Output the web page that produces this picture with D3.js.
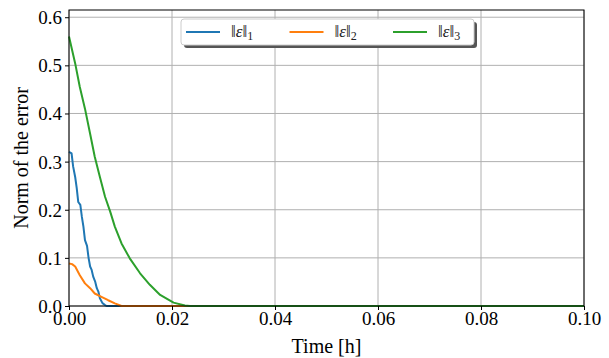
<!DOCTYPE html>
<html>
<head>
<meta charset="utf-8">
<script src="https://cdn.jsdelivr.net/npm/d3@7"></script>
<style>
  body { margin: 0; background: #fff; }
  svg { display: block; }
  svg text { font-family: "Liberation Serif", "DejaVu Serif", serif !important; }
</style>
</head>
<body>
<div id="vis1"></div>
<script>
const FRAME_HEIGHT = 358;
const FRAME_WIDTH = 609;
const MARGINS = {left: 69, right: 25, top: 10, bottom: 52};

// data
const time1 = [0, 0.0005, 0.0008, 0.0012, 0.0015, 0.0018, 0.0022, 0.0025, 0.0028, 0.0031, 0.0035, 0.0038, 0.0041, 0.0044, 0.0047, 0.0051, 0.0054, 0.0057, 0.006, 0.0065, 0.007, 0.0073, 0.1];
const err1  = [0.32, 0.317, 0.29, 0.268, 0.245, 0.216, 0.21, 0.185, 0.165, 0.137, 0.125, 0.1, 0.082, 0.075, 0.061, 0.05, 0.037, 0.03, 0.016, 0.006, 0.002, 0, 0];
const time2 = [0, 0.0006, 0.0012, 0.0021, 0.0031, 0.0041, 0.005, 0.0063, 0.0076, 0.0089, 0.0102, 0.1];
const err2  = [0.0885, 0.087, 0.082, 0.064, 0.047, 0.037, 0.026, 0.019, 0.012, 0.0055, 0, 0];
const time3 = [0, 0.0012, 0.0021, 0.0031, 0.0041, 0.005, 0.006, 0.007, 0.008, 0.0089, 0.0102, 0.0118, 0.0138, 0.0157, 0.0177, 0.0203, 0.0225, 0.0235, 0.1];
const err3  = [0.56, 0.504, 0.455, 0.41, 0.358, 0.31, 0.268, 0.227, 0.196, 0.165, 0.13, 0.099, 0.068, 0.044, 0.023, 0.007, 0.001, 0, 0];
const seriesNames = ["1", "2", "3"];
const colors = ["#1f77b4", "#ff7f0e", "#2ca02c"];
const xTicks = [0, 0.02, 0.04, 0.06, 0.08, 0.10];
const yTicks = [0, 0.1, 0.2, 0.3, 0.4, 0.5, 0.6];

const VIS_HEIGHT = FRAME_HEIGHT - MARGINS.top - MARGINS.bottom;
const VIS_WIDTH = FRAME_WIDTH - MARGINS.left - MARGINS.right;

const FRAME1 = d3.select("#vis1")
  .append("svg")
    .attr("height", FRAME_HEIGHT)
    .attr("width", FRAME_WIDTH);

const X_SCALE = d3.scaleLinear().domain([0, 0.1]).range([0, VIS_WIDTH]);
const Y_SCALE = d3.scaleLinear().domain([0, 0.615]).range([VIS_HEIGHT, 0]);

const plot = FRAME1.append("g")
    .attr("transform", "translate(" + MARGINS.left + "," + MARGINS.top + ")");

// grid
plot.append("g")
  .selectAll("line")
  .data(xTicks)
  .enter()
  .append("line")
    .attr("x1", d => X_SCALE(d)).attr("x2", d => X_SCALE(d))
    .attr("y1", 0).attr("y2", VIS_HEIGHT)
    .attr("stroke", "#b0b0b0").attr("stroke-width", 1);
plot.append("g")
  .selectAll("line")
  .data(yTicks)
  .enter()
  .append("line")
    .attr("y1", d => Y_SCALE(d)).attr("y2", d => Y_SCALE(d))
    .attr("x1", 0).attr("x2", VIS_WIDTH)
    .attr("stroke", "#b0b0b0").attr("stroke-width", 1);

// lines
const series = [
  {t: time1, v: err1},
  {t: time2, v: err2},
  {t: time3, v: err3}
];
const line = d3.line()
  .x(d => X_SCALE(d[0]))
  .y(d => Y_SCALE(d[1]));

series.forEach((s, i) => {
  plot.append("path")
    .datum(s.t.map((t, j) => [t, s.v[j]]))
    .attr("d", line)
    .attr("fill", "none")
    .attr("stroke", colors[i])
    .attr("stroke-width", 2)
    .attr("stroke-linejoin", "round");
});

// axes
const xAxis = plot.append("g")
    .attr("transform", "translate(0," + VIS_HEIGHT + ")")
    .call(d3.axisBottom(X_SCALE).tickValues(xTicks).tickFormat(d3.format(".2f"))
      .tickSize(4).tickPadding(2));
const yAxis = plot.append("g")
    .call(d3.axisLeft(Y_SCALE).tickValues(yTicks).tickFormat(d3.format(".1f"))
      .tickSize(4).tickPadding(3));
[xAxis, yAxis].forEach(a => {
  a.attr("font-family", null).attr("font-size", null);
  a.select(".domain").remove();
  a.selectAll("text").style("font-size", "19px").attr("fill", "#000");
  a.selectAll("line").attr("stroke", "#000");
});
yAxis.selectAll("text").attr("dy", "0.34em");

// frame
plot.append("rect")
    .attr("width", VIS_WIDTH).attr("height", VIS_HEIGHT)
    .attr("fill", "none").attr("stroke", "#000").attr("stroke-width", 1);

// axis labels
FRAME1.append("text")
    .attr("x", MARGINS.left + VIS_WIDTH / 2).attr("y", 353)
    .attr("text-anchor", "middle").attr("font-size", "20px")
    .text("Time [h]");
FRAME1.append("text")
    .attr("transform", "translate(28," + (MARGINS.top + VIS_HEIGHT / 2) + ") rotate(-90)")
    .attr("text-anchor", "middle").attr("font-size", "20px")
    .text("Norm of the error");

// legend
const legend = FRAME1.append("g").attr("transform", "translate(181,19)");
legend.append("rect")
    .attr("x", 3).attr("y", 3).attr("width", 293).attr("height", 26)
    .attr("rx", 3).attr("fill", "#555");
legend.append("rect")
    .attr("x", 0).attr("y", 0).attr("width", 293).attr("height", 26)
    .attr("rx", 3).attr("fill", "#fff").attr("stroke", "#ccc");
const entries = legend.selectAll("g.entry")
  .data(seriesNames)
  .enter()
  .append("g")
    .attr("transform", (d, i) => "translate(" + (5 + i * 103.5) + ",0)");
entries.append("line")
    .attr("x1", 0).attr("x2", 34).attr("y1", 13).attr("y2", 13)
    .attr("stroke", (d, i) => colors[i]).attr("stroke-width", 2);
const lt = entries.append("text")
    .attr("x", 45).attr("y", 18).attr("font-size", "17px").attr("fill", "#222");
lt.append("tspan").text("\u2016");
lt.append("tspan").attr("font-style", "italic").text("\u03b5");
lt.append("tspan").text("\u2016");
lt.append("tspan").attr("dy", 3).attr("font-size", "12px").text(d => d);
</script>
</body>
</html>
